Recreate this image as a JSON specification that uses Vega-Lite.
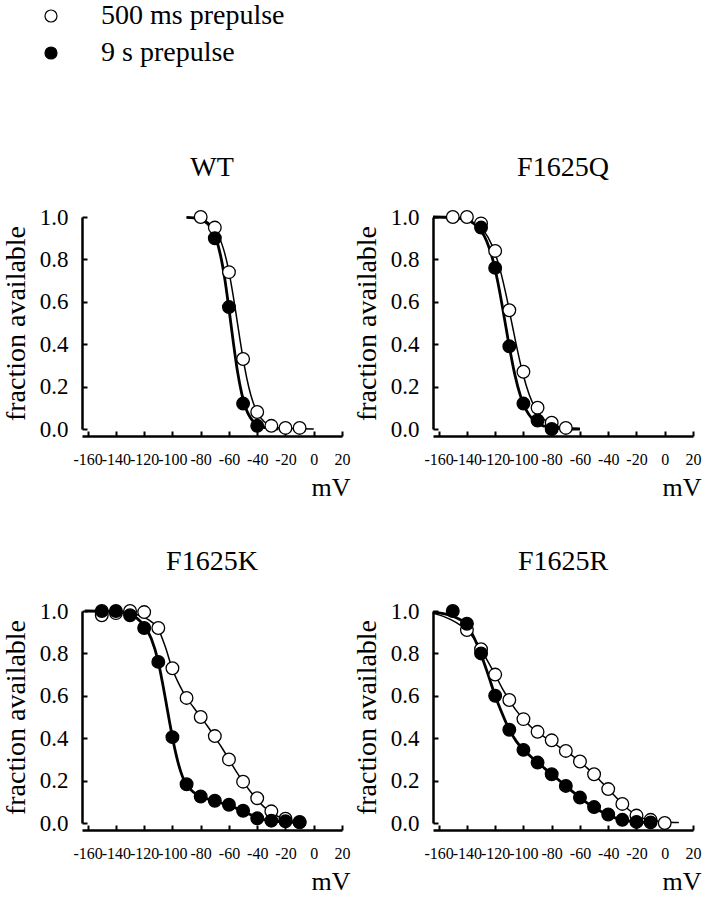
{
"$schema":"https://vega.github.io/schema/vega-lite/v6.json",
"background":"white",
"padding":{"left":2,"top":2,"right":5,"bottom":5},
"config":{"font":"Liberation Serif","view":{"stroke":null},
"axis":{"grid":false,"domainColor":"black","domainWidth":2.5,"tickColor":"black","tickWidth":2,"labelColor":"black","titleColor":"black","labelFont":"Liberation Serif","titleFont":"Liberation Serif","titleFontWeight":"normal"},
"legend":{"padding":0}},
"datasets":{"d":[
{"p":"WT","s":"500 ms prepulse","k":"pt","v":-80,"f":1.0},{"p":"WT","s":"500 ms prepulse","k":"pt","v":-70,"f":0.95},{"p":"WT","s":"500 ms prepulse","k":"pt","v":-60,"f":0.74},{"p":"WT","s":"500 ms prepulse","k":"pt","v":-50,"f":0.33},{"p":"WT","s":"500 ms prepulse","k":"pt","v":-40,"f":0.08},{"p":"WT","s":"500 ms prepulse","k":"pt","v":-30,"f":0.015},{"p":"WT","s":"500 ms prepulse","k":"pt","v":-20,"f":0.005},{"p":"WT","s":"500 ms prepulse","k":"pt","v":-10,"f":0.005},
{"p":"WT","s":"9 s prepulse","k":"pt","v":-70,"f":0.9},{"p":"WT","s":"9 s prepulse","k":"pt","v":-60,"f":0.575},{"p":"WT","s":"9 s prepulse","k":"pt","v":-50,"f":0.12},{"p":"WT","s":"9 s prepulse","k":"pt","v":-40,"f":0.015},
{"p":"WT","s":"500 ms prepulse","k":"cv","v":-90,"f":0.998},{"p":"WT","s":"500 ms prepulse","k":"cv","v":-85,"f":0.996},{"p":"WT","s":"500 ms prepulse","k":"cv","v":-80,"f":0.99},{"p":"WT","s":"500 ms prepulse","k":"cv","v":-75,"f":0.975},{"p":"WT","s":"500 ms prepulse","k":"cv","v":-70,"f":0.943},{"p":"WT","s":"500 ms prepulse","k":"cv","v":-67,"f":0.907},{"p":"WT","s":"500 ms prepulse","k":"cv","v":-64,"f":0.852},{"p":"WT","s":"500 ms prepulse","k":"cv","v":-61,"f":0.774},{"p":"WT","s":"500 ms prepulse","k":"cv","v":-58,"f":0.668},{"p":"WT","s":"500 ms prepulse","k":"cv","v":-55,"f":0.544},{"p":"WT","s":"500 ms prepulse","k":"cv","v":-52,"f":0.413},{"p":"WT","s":"500 ms prepulse","k":"cv","v":-49,"f":0.294},{"p":"WT","s":"500 ms prepulse","k":"cv","v":-46,"f":0.198},{"p":"WT","s":"500 ms prepulse","k":"cv","v":-43,"f":0.127},{"p":"WT","s":"500 ms prepulse","k":"cv","v":-40,"f":0.079},{"p":"WT","s":"500 ms prepulse","k":"cv","v":-35,"f":0.034},{"p":"WT","s":"500 ms prepulse","k":"cv","v":-30,"f":0.015},{"p":"WT","s":"500 ms prepulse","k":"cv","v":-25,"f":0.006},{"p":"WT","s":"500 ms prepulse","k":"cv","v":-20,"f":0.003},{"p":"WT","s":"500 ms prepulse","k":"cv","v":-10,"f":0.001},{"p":"WT","s":"500 ms prepulse","k":"cv","v":0,"f":0.0},
{"p":"WT","s":"9 s prepulse","k":"cv","v":-90,"f":0.998},{"p":"WT","s":"9 s prepulse","k":"cv","v":-85,"f":0.996},{"p":"WT","s":"9 s prepulse","k":"cv","v":-80,"f":0.988},{"p":"WT","s":"9 s prepulse","k":"cv","v":-75,"f":0.968},{"p":"WT","s":"9 s prepulse","k":"cv","v":-72,"f":0.941},{"p":"WT","s":"9 s prepulse","k":"cv","v":-69,"f":0.895},{"p":"WT","s":"9 s prepulse","k":"cv","v":-66,"f":0.82},{"p":"WT","s":"9 s prepulse","k":"cv","v":-63,"f":0.71},{"p":"WT","s":"9 s prepulse","k":"cv","v":-60,"f":0.567},{"p":"WT","s":"9 s prepulse","k":"cv","v":-57,"f":0.413},{"p":"WT","s":"9 s prepulse","k":"cv","v":-54,"f":0.273},{"p":"WT","s":"9 s prepulse","k":"cv","v":-51,"f":0.168},{"p":"WT","s":"9 s prepulse","k":"cv","v":-48,"f":0.097},{"p":"WT","s":"9 s prepulse","k":"cv","v":-45,"f":0.055},{"p":"WT","s":"9 s prepulse","k":"cv","v":-42,"f":0.03},{"p":"WT","s":"9 s prepulse","k":"cv","v":-38,"f":0.013},{"p":"WT","s":"9 s prepulse","k":"cv","v":-34,"f":0.006},{"p":"WT","s":"9 s prepulse","k":"cv","v":-30,"f":0.002},{"p":"WT","s":"9 s prepulse","k":"cv","v":-25,"f":0.001},
{"p":"F1625Q","s":"500 ms prepulse","k":"pt","v":-150,"f":1.0},{"p":"F1625Q","s":"500 ms prepulse","k":"pt","v":-140,"f":1.0},{"p":"F1625Q","s":"500 ms prepulse","k":"pt","v":-130,"f":0.97},{"p":"F1625Q","s":"500 ms prepulse","k":"pt","v":-120,"f":0.84},{"p":"F1625Q","s":"500 ms prepulse","k":"pt","v":-110,"f":0.56},{"p":"F1625Q","s":"500 ms prepulse","k":"pt","v":-100,"f":0.27},{"p":"F1625Q","s":"500 ms prepulse","k":"pt","v":-90,"f":0.1},{"p":"F1625Q","s":"500 ms prepulse","k":"pt","v":-80,"f":0.03},{"p":"F1625Q","s":"500 ms prepulse","k":"pt","v":-70,"f":0.005},
{"p":"F1625Q","s":"9 s prepulse","k":"pt","v":-130,"f":0.95},{"p":"F1625Q","s":"9 s prepulse","k":"pt","v":-120,"f":0.76},{"p":"F1625Q","s":"9 s prepulse","k":"pt","v":-110,"f":0.39},{"p":"F1625Q","s":"9 s prepulse","k":"pt","v":-100,"f":0.12},{"p":"F1625Q","s":"9 s prepulse","k":"pt","v":-90,"f":0.04},{"p":"F1625Q","s":"9 s prepulse","k":"pt","v":-80,"f":0.0},
{"p":"F1625Q","s":"500 ms prepulse","k":"cv","v":-164,"f":1.0},{"p":"F1625Q","s":"500 ms prepulse","k":"cv","v":-150,"f":0.996},{"p":"F1625Q","s":"500 ms prepulse","k":"cv","v":-140,"f":0.986},{"p":"F1625Q","s":"500 ms prepulse","k":"cv","v":-135,"f":0.972},{"p":"F1625Q","s":"500 ms prepulse","k":"cv","v":-130,"f":0.948},{"p":"F1625Q","s":"500 ms prepulse","k":"cv","v":-125,"f":0.904},{"p":"F1625Q","s":"500 ms prepulse","k":"cv","v":-120,"f":0.828},{"p":"F1625Q","s":"500 ms prepulse","k":"cv","v":-116,"f":0.739},{"p":"F1625Q","s":"500 ms prepulse","k":"cv","v":-112,"f":0.624},{"p":"F1625Q","s":"500 ms prepulse","k":"cv","v":-108,"f":0.493},{"p":"F1625Q","s":"500 ms prepulse","k":"cv","v":-104,"f":0.364},{"p":"F1625Q","s":"500 ms prepulse","k":"cv","v":-100,"f":0.251},{"p":"F1625Q","s":"500 ms prepulse","k":"cv","v":-96,"f":0.164},{"p":"F1625Q","s":"500 ms prepulse","k":"cv","v":-92,"f":0.103},{"p":"F1625Q","s":"500 ms prepulse","k":"cv","v":-88,"f":0.063},{"p":"F1625Q","s":"500 ms prepulse","k":"cv","v":-84,"f":0.038},{"p":"F1625Q","s":"500 ms prepulse","k":"cv","v":-80,"f":0.023},{"p":"F1625Q","s":"500 ms prepulse","k":"cv","v":-75,"f":0.012},{"p":"F1625Q","s":"500 ms prepulse","k":"cv","v":-70,"f":0.006},{"p":"F1625Q","s":"500 ms prepulse","k":"cv","v":-65,"f":0.003},{"p":"F1625Q","s":"500 ms prepulse","k":"cv","v":-60,"f":0.001},
{"p":"F1625Q","s":"9 s prepulse","k":"cv","v":-164,"f":1.0},{"p":"F1625Q","s":"9 s prepulse","k":"cv","v":-150,"f":0.997},{"p":"F1625Q","s":"9 s prepulse","k":"cv","v":-140,"f":0.986},{"p":"F1625Q","s":"9 s prepulse","k":"cv","v":-135,"f":0.969},{"p":"F1625Q","s":"9 s prepulse","k":"cv","v":-130,"f":0.935},{"p":"F1625Q","s":"9 s prepulse","k":"cv","v":-126,"f":0.886},{"p":"F1625Q","s":"9 s prepulse","k":"cv","v":-122,"f":0.806},{"p":"F1625Q","s":"9 s prepulse","k":"cv","v":-118,"f":0.689},{"p":"F1625Q","s":"9 s prepulse","k":"cv","v":-114,"f":0.543},{"p":"F1625Q","s":"9 s prepulse","k":"cv","v":-110,"f":0.389},{"p":"F1625Q","s":"9 s prepulse","k":"cv","v":-106,"f":0.254},{"p":"F1625Q","s":"9 s prepulse","k":"cv","v":-102,"f":0.154},{"p":"F1625Q","s":"9 s prepulse","k":"cv","v":-98,"f":0.089},{"p":"F1625Q","s":"9 s prepulse","k":"cv","v":-94,"f":0.05},{"p":"F1625Q","s":"9 s prepulse","k":"cv","v":-90,"f":0.027},{"p":"F1625Q","s":"9 s prepulse","k":"cv","v":-85,"f":0.013},{"p":"F1625Q","s":"9 s prepulse","k":"cv","v":-80,"f":0.006},{"p":"F1625Q","s":"9 s prepulse","k":"cv","v":-75,"f":0.003},{"p":"F1625Q","s":"9 s prepulse","k":"cv","v":-70,"f":0.001},{"p":"F1625Q","s":"9 s prepulse","k":"cv","v":-60,"f":0.0},
{"p":"F1625K","s":"500 ms prepulse","k":"pt","v":-150,"f":0.98},{"p":"F1625K","s":"500 ms prepulse","k":"pt","v":-140,"f":0.99},{"p":"F1625K","s":"500 ms prepulse","k":"pt","v":-130,"f":1.0},{"p":"F1625K","s":"500 ms prepulse","k":"pt","v":-120,"f":0.995},{"p":"F1625K","s":"500 ms prepulse","k":"pt","v":-110,"f":0.92},{"p":"F1625K","s":"500 ms prepulse","k":"pt","v":-100,"f":0.73},{"p":"F1625K","s":"500 ms prepulse","k":"pt","v":-90,"f":0.59},{"p":"F1625K","s":"500 ms prepulse","k":"pt","v":-80,"f":0.5},{"p":"F1625K","s":"500 ms prepulse","k":"pt","v":-70,"f":0.41},{"p":"F1625K","s":"500 ms prepulse","k":"pt","v":-60,"f":0.3},{"p":"F1625K","s":"500 ms prepulse","k":"pt","v":-50,"f":0.195},{"p":"F1625K","s":"500 ms prepulse","k":"pt","v":-40,"f":0.117},{"p":"F1625K","s":"500 ms prepulse","k":"pt","v":-30,"f":0.055},{"p":"F1625K","s":"500 ms prepulse","k":"pt","v":-20,"f":0.02},{"p":"F1625K","s":"500 ms prepulse","k":"pt","v":-10,"f":0.005},
{"p":"F1625K","s":"9 s prepulse","k":"pt","v":-150,"f":1.0},{"p":"F1625K","s":"9 s prepulse","k":"pt","v":-140,"f":1.0},{"p":"F1625K","s":"9 s prepulse","k":"pt","v":-130,"f":0.98},{"p":"F1625K","s":"9 s prepulse","k":"pt","v":-120,"f":0.92},{"p":"F1625K","s":"9 s prepulse","k":"pt","v":-110,"f":0.76},{"p":"F1625K","s":"9 s prepulse","k":"pt","v":-100,"f":0.405},{"p":"F1625K","s":"9 s prepulse","k":"pt","v":-90,"f":0.183},{"p":"F1625K","s":"9 s prepulse","k":"pt","v":-80,"f":0.125},{"p":"F1625K","s":"9 s prepulse","k":"pt","v":-70,"f":0.105},{"p":"F1625K","s":"9 s prepulse","k":"pt","v":-60,"f":0.086},{"p":"F1625K","s":"9 s prepulse","k":"pt","v":-50,"f":0.058},{"p":"F1625K","s":"9 s prepulse","k":"pt","v":-40,"f":0.022},{"p":"F1625K","s":"9 s prepulse","k":"pt","v":-30,"f":0.011},{"p":"F1625K","s":"9 s prepulse","k":"pt","v":-20,"f":0.008},{"p":"F1625K","s":"9 s prepulse","k":"pt","v":-10,"f":0.003},
{"p":"F1625K","s":"500 ms prepulse","k":"cv","v":-162,"f":1.0},{"p":"F1625K","s":"500 ms prepulse","k":"cv","v":-150,"f":1.0},{"p":"F1625K","s":"500 ms prepulse","k":"cv","v":-140,"f":0.998},{"p":"F1625K","s":"500 ms prepulse","k":"cv","v":-130,"f":0.99},{"p":"F1625K","s":"500 ms prepulse","k":"cv","v":-125,"f":0.982},{"p":"F1625K","s":"500 ms prepulse","k":"cv","v":-120,"f":0.97},{"p":"F1625K","s":"500 ms prepulse","k":"cv","v":-115,"f":0.95},{"p":"F1625K","s":"500 ms prepulse","k":"cv","v":-110,"f":0.915},{"p":"F1625K","s":"500 ms prepulse","k":"cv","v":-105,"f":0.83},{"p":"F1625K","s":"500 ms prepulse","k":"cv","v":-100,"f":0.725},{"p":"F1625K","s":"500 ms prepulse","k":"cv","v":-95,"f":0.65},{"p":"F1625K","s":"500 ms prepulse","k":"cv","v":-90,"f":0.59},{"p":"F1625K","s":"500 ms prepulse","k":"cv","v":-85,"f":0.545},{"p":"F1625K","s":"500 ms prepulse","k":"cv","v":-80,"f":0.5},{"p":"F1625K","s":"500 ms prepulse","k":"cv","v":-75,"f":0.455},{"p":"F1625K","s":"500 ms prepulse","k":"cv","v":-70,"f":0.405},{"p":"F1625K","s":"500 ms prepulse","k":"cv","v":-65,"f":0.355},{"p":"F1625K","s":"500 ms prepulse","k":"cv","v":-60,"f":0.3},{"p":"F1625K","s":"500 ms prepulse","k":"cv","v":-55,"f":0.245},{"p":"F1625K","s":"500 ms prepulse","k":"cv","v":-50,"f":0.195},{"p":"F1625K","s":"500 ms prepulse","k":"cv","v":-45,"f":0.15},{"p":"F1625K","s":"500 ms prepulse","k":"cv","v":-40,"f":0.11},{"p":"F1625K","s":"500 ms prepulse","k":"cv","v":-35,"f":0.075},{"p":"F1625K","s":"500 ms prepulse","k":"cv","v":-30,"f":0.05},{"p":"F1625K","s":"500 ms prepulse","k":"cv","v":-25,"f":0.03},{"p":"F1625K","s":"500 ms prepulse","k":"cv","v":-20,"f":0.018},{"p":"F1625K","s":"500 ms prepulse","k":"cv","v":-15,"f":0.01},{"p":"F1625K","s":"500 ms prepulse","k":"cv","v":-10,"f":0.006},
{"p":"F1625K","s":"9 s prepulse","k":"cv","v":-162,"f":1.0},{"p":"F1625K","s":"9 s prepulse","k":"cv","v":-140,"f":0.998},{"p":"F1625K","s":"9 s prepulse","k":"cv","v":-130,"f":0.985},{"p":"F1625K","s":"9 s prepulse","k":"cv","v":-125,"f":0.965},{"p":"F1625K","s":"9 s prepulse","k":"cv","v":-120,"f":0.93},{"p":"F1625K","s":"9 s prepulse","k":"cv","v":-115,"f":0.87},{"p":"F1625K","s":"9 s prepulse","k":"cv","v":-110,"f":0.76},{"p":"F1625K","s":"9 s prepulse","k":"cv","v":-107,"f":0.66},{"p":"F1625K","s":"9 s prepulse","k":"cv","v":-104,"f":0.55},{"p":"F1625K","s":"9 s prepulse","k":"cv","v":-102,"f":0.475},{"p":"F1625K","s":"9 s prepulse","k":"cv","v":-100,"f":0.405},{"p":"F1625K","s":"9 s prepulse","k":"cv","v":-98,"f":0.34},{"p":"F1625K","s":"9 s prepulse","k":"cv","v":-96,"f":0.285},{"p":"F1625K","s":"9 s prepulse","k":"cv","v":-94,"f":0.24},{"p":"F1625K","s":"9 s prepulse","k":"cv","v":-92,"f":0.205},{"p":"F1625K","s":"9 s prepulse","k":"cv","v":-90,"f":0.18},{"p":"F1625K","s":"9 s prepulse","k":"cv","v":-85,"f":0.145},{"p":"F1625K","s":"9 s prepulse","k":"cv","v":-80,"f":0.125},{"p":"F1625K","s":"9 s prepulse","k":"cv","v":-75,"f":0.113},{"p":"F1625K","s":"9 s prepulse","k":"cv","v":-70,"f":0.103},{"p":"F1625K","s":"9 s prepulse","k":"cv","v":-65,"f":0.093},{"p":"F1625K","s":"9 s prepulse","k":"cv","v":-60,"f":0.083},{"p":"F1625K","s":"9 s prepulse","k":"cv","v":-55,"f":0.07},{"p":"F1625K","s":"9 s prepulse","k":"cv","v":-50,"f":0.055},{"p":"F1625K","s":"9 s prepulse","k":"cv","v":-45,"f":0.04},{"p":"F1625K","s":"9 s prepulse","k":"cv","v":-40,"f":0.026},{"p":"F1625K","s":"9 s prepulse","k":"cv","v":-35,"f":0.016},{"p":"F1625K","s":"9 s prepulse","k":"cv","v":-30,"f":0.01},{"p":"F1625K","s":"9 s prepulse","k":"cv","v":-20,"f":0.005},{"p":"F1625K","s":"9 s prepulse","k":"cv","v":-10,"f":0.002},
{"p":"F1625R","s":"500 ms prepulse","k":"pt","v":-140,"f":0.91},{"p":"F1625R","s":"500 ms prepulse","k":"pt","v":-130,"f":0.82},{"p":"F1625R","s":"500 ms prepulse","k":"pt","v":-120,"f":0.7},{"p":"F1625R","s":"500 ms prepulse","k":"pt","v":-110,"f":0.58},{"p":"F1625R","s":"500 ms prepulse","k":"pt","v":-100,"f":0.49},{"p":"F1625R","s":"500 ms prepulse","k":"pt","v":-90,"f":0.43},{"p":"F1625R","s":"500 ms prepulse","k":"pt","v":-80,"f":0.39},{"p":"F1625R","s":"500 ms prepulse","k":"pt","v":-70,"f":0.34},{"p":"F1625R","s":"500 ms prepulse","k":"pt","v":-60,"f":0.29},{"p":"F1625R","s":"500 ms prepulse","k":"pt","v":-50,"f":0.23},{"p":"F1625R","s":"500 ms prepulse","k":"pt","v":-40,"f":0.16},{"p":"F1625R","s":"500 ms prepulse","k":"pt","v":-30,"f":0.09},{"p":"F1625R","s":"500 ms prepulse","k":"pt","v":-20,"f":0.035},{"p":"F1625R","s":"500 ms prepulse","k":"pt","v":-10,"f":0.015},{"p":"F1625R","s":"500 ms prepulse","k":"pt","v":0,"f":0.0},
{"p":"F1625R","s":"9 s prepulse","k":"pt","v":-150,"f":1.0},{"p":"F1625R","s":"9 s prepulse","k":"pt","v":-140,"f":0.94},{"p":"F1625R","s":"9 s prepulse","k":"pt","v":-130,"f":0.8},{"p":"F1625R","s":"9 s prepulse","k":"pt","v":-120,"f":0.6},{"p":"F1625R","s":"9 s prepulse","k":"pt","v":-110,"f":0.44},{"p":"F1625R","s":"9 s prepulse","k":"pt","v":-100,"f":0.345},{"p":"F1625R","s":"9 s prepulse","k":"pt","v":-90,"f":0.285},{"p":"F1625R","s":"9 s prepulse","k":"pt","v":-80,"f":0.23},{"p":"F1625R","s":"9 s prepulse","k":"pt","v":-70,"f":0.175},{"p":"F1625R","s":"9 s prepulse","k":"pt","v":-60,"f":0.12},{"p":"F1625R","s":"9 s prepulse","k":"pt","v":-50,"f":0.075},{"p":"F1625R","s":"9 s prepulse","k":"pt","v":-40,"f":0.04},{"p":"F1625R","s":"9 s prepulse","k":"pt","v":-30,"f":0.015},{"p":"F1625R","s":"9 s prepulse","k":"pt","v":-20,"f":0.005},{"p":"F1625R","s":"9 s prepulse","k":"pt","v":-10,"f":0.003},
{"p":"F1625R","s":"500 ms prepulse","k":"cv","v":-164,"f":0.99},{"p":"F1625R","s":"500 ms prepulse","k":"cv","v":-155,"f":0.97},{"p":"F1625R","s":"500 ms prepulse","k":"cv","v":-150,"f":0.955},{"p":"F1625R","s":"500 ms prepulse","k":"cv","v":-145,"f":0.935},{"p":"F1625R","s":"500 ms prepulse","k":"cv","v":-140,"f":0.91},{"p":"F1625R","s":"500 ms prepulse","k":"cv","v":-135,"f":0.87},{"p":"F1625R","s":"500 ms prepulse","k":"cv","v":-130,"f":0.82},{"p":"F1625R","s":"500 ms prepulse","k":"cv","v":-125,"f":0.76},{"p":"F1625R","s":"500 ms prepulse","k":"cv","v":-120,"f":0.7},{"p":"F1625R","s":"500 ms prepulse","k":"cv","v":-115,"f":0.635},{"p":"F1625R","s":"500 ms prepulse","k":"cv","v":-110,"f":0.58},{"p":"F1625R","s":"500 ms prepulse","k":"cv","v":-105,"f":0.53},{"p":"F1625R","s":"500 ms prepulse","k":"cv","v":-100,"f":0.49},{"p":"F1625R","s":"500 ms prepulse","k":"cv","v":-95,"f":0.455},{"p":"F1625R","s":"500 ms prepulse","k":"cv","v":-90,"f":0.43},{"p":"F1625R","s":"500 ms prepulse","k":"cv","v":-85,"f":0.405},{"p":"F1625R","s":"500 ms prepulse","k":"cv","v":-80,"f":0.385},{"p":"F1625R","s":"500 ms prepulse","k":"cv","v":-75,"f":0.36},{"p":"F1625R","s":"500 ms prepulse","k":"cv","v":-70,"f":0.34},{"p":"F1625R","s":"500 ms prepulse","k":"cv","v":-65,"f":0.315},{"p":"F1625R","s":"500 ms prepulse","k":"cv","v":-60,"f":0.29},{"p":"F1625R","s":"500 ms prepulse","k":"cv","v":-55,"f":0.26},{"p":"F1625R","s":"500 ms prepulse","k":"cv","v":-50,"f":0.23},{"p":"F1625R","s":"500 ms prepulse","k":"cv","v":-45,"f":0.195},{"p":"F1625R","s":"500 ms prepulse","k":"cv","v":-40,"f":0.16},{"p":"F1625R","s":"500 ms prepulse","k":"cv","v":-35,"f":0.125},{"p":"F1625R","s":"500 ms prepulse","k":"cv","v":-30,"f":0.09},{"p":"F1625R","s":"500 ms prepulse","k":"cv","v":-25,"f":0.06},{"p":"F1625R","s":"500 ms prepulse","k":"cv","v":-20,"f":0.037},{"p":"F1625R","s":"500 ms prepulse","k":"cv","v":-15,"f":0.022},{"p":"F1625R","s":"500 ms prepulse","k":"cv","v":-10,"f":0.013},{"p":"F1625R","s":"500 ms prepulse","k":"cv","v":-5,"f":0.008},{"p":"F1625R","s":"500 ms prepulse","k":"cv","v":0,"f":0.005},{"p":"F1625R","s":"500 ms prepulse","k":"cv","v":10,"f":0.002},
{"p":"F1625R","s":"9 s prepulse","k":"cv","v":-164,"f":0.995},{"p":"F1625R","s":"9 s prepulse","k":"cv","v":-155,"f":0.985},{"p":"F1625R","s":"9 s prepulse","k":"cv","v":-150,"f":0.975},{"p":"F1625R","s":"9 s prepulse","k":"cv","v":-145,"f":0.96},{"p":"F1625R","s":"9 s prepulse","k":"cv","v":-140,"f":0.935},{"p":"F1625R","s":"9 s prepulse","k":"cv","v":-135,"f":0.875},{"p":"F1625R","s":"9 s prepulse","k":"cv","v":-130,"f":0.795},{"p":"F1625R","s":"9 s prepulse","k":"cv","v":-125,"f":0.7},{"p":"F1625R","s":"9 s prepulse","k":"cv","v":-120,"f":0.6},{"p":"F1625R","s":"9 s prepulse","k":"cv","v":-115,"f":0.515},{"p":"F1625R","s":"9 s prepulse","k":"cv","v":-110,"f":0.44},{"p":"F1625R","s":"9 s prepulse","k":"cv","v":-105,"f":0.385},{"p":"F1625R","s":"9 s prepulse","k":"cv","v":-100,"f":0.345},{"p":"F1625R","s":"9 s prepulse","k":"cv","v":-95,"f":0.315},{"p":"F1625R","s":"9 s prepulse","k":"cv","v":-90,"f":0.285},{"p":"F1625R","s":"9 s prepulse","k":"cv","v":-85,"f":0.258},{"p":"F1625R","s":"9 s prepulse","k":"cv","v":-80,"f":0.23},{"p":"F1625R","s":"9 s prepulse","k":"cv","v":-75,"f":0.203},{"p":"F1625R","s":"9 s prepulse","k":"cv","v":-70,"f":0.175},{"p":"F1625R","s":"9 s prepulse","k":"cv","v":-65,"f":0.147},{"p":"F1625R","s":"9 s prepulse","k":"cv","v":-60,"f":0.12},{"p":"F1625R","s":"9 s prepulse","k":"cv","v":-55,"f":0.095},{"p":"F1625R","s":"9 s prepulse","k":"cv","v":-50,"f":0.073},{"p":"F1625R","s":"9 s prepulse","k":"cv","v":-45,"f":0.054},{"p":"F1625R","s":"9 s prepulse","k":"cv","v":-40,"f":0.037},{"p":"F1625R","s":"9 s prepulse","k":"cv","v":-35,"f":0.024},{"p":"F1625R","s":"9 s prepulse","k":"cv","v":-30,"f":0.015},{"p":"F1625R","s":"9 s prepulse","k":"cv","v":-25,"f":0.009},{"p":"F1625R","s":"9 s prepulse","k":"cv","v":-20,"f":0.005},{"p":"F1625R","s":"9 s prepulse","k":"cv","v":-15,"f":0.003},{"p":"F1625R","s":"9 s prepulse","k":"cv","v":-10,"f":0.002}
]},
"data":{"name":"d"},
"facet":{"field":"p","type":"nominal","sort":["WT","F1625Q","F1625K","F1625R"],"header":{"title":null,"labelFontSize":28,"labelFont":"Liberation Serif","labelColor":"black","labelPadding":24}},
"columns":2,
"spacing":{"row":182,"column":91},
"bounds":"flush",
"resolve":{"axis":{"x":"independent","y":"independent"}},
"spec":{
"width":260,"height":212,
"encoding":{
"x":{"field":"v","type":"quantitative","scale":{"domain":[-164,20],"nice":false,"zero":false},
"axis":{"values":[-160,-140,-120,-100,-80,-60,-40,-20,0,20],"labelExpr":"'' + datum.value","title":"mV","labelFont":"Liberation Serif","titleFont":"Liberation Serif","labelFontSize":16,"tickSize":-5,"labelPadding":20,"offset":7,"labelOverlap":false,"labelBound":false,"labelFlush":false,"titleFontSize":26,"titleAnchor":"end","titleAlign":"right","titleX":268,"titleY":59,"titleBaseline":"alphabetic"}},
"y":{"field":"f","type":"quantitative","scale":{"domain":[0,1],"nice":false},
"axis":{"values":[0,0.2,0.4,0.6,0.8,1],"format":".1f","title":"fraction available","labelFont":"Liberation Serif","titleFont":"Liberation Serif","labelFontSize":23,"titleFontSize":28,"tickSize":-5,"labelPadding":19,"titlePadding":9}}
},
"layer":[
{"transform":[{"filter":"datum.k==='cv' && datum.s==='500 ms prepulse'"}],"mark":{"type":"line","interpolate":"monotone","color":"black","strokeWidth":1.5},"encoding":{}},
{"transform":[{"filter":"datum.k==='cv' && datum.s==='9 s prepulse'"}],"mark":{"type":"line","interpolate":"monotone","color":"black","strokeWidth":2.8},"encoding":{}},
{"transform":[{"filter":"datum.k==='pt'"}],"mark":{"type":"point","shape":"circle","filled":true,"stroke":"black","strokeWidth":1.3,"size":160,"opacity":1},
"encoding":{"fill":{"field":"s","type":"nominal","scale":{"domain":["500 ms prepulse","9 s prepulse"],"range":["white","black"]},
"legend":{"title":null,"orient":"none","legendX":-45,"legendY":-215,"direction":"vertical","symbolType":"circle","symbolSize":144,"symbolStrokeColor":"black","symbolStrokeWidth":1.2,"labelFontSize":28,"labelFont":"Liberation Serif","labelColor":"black","labelOffset":36,"rowPadding":9,"labelLimit":400}}}}
]
}
}
